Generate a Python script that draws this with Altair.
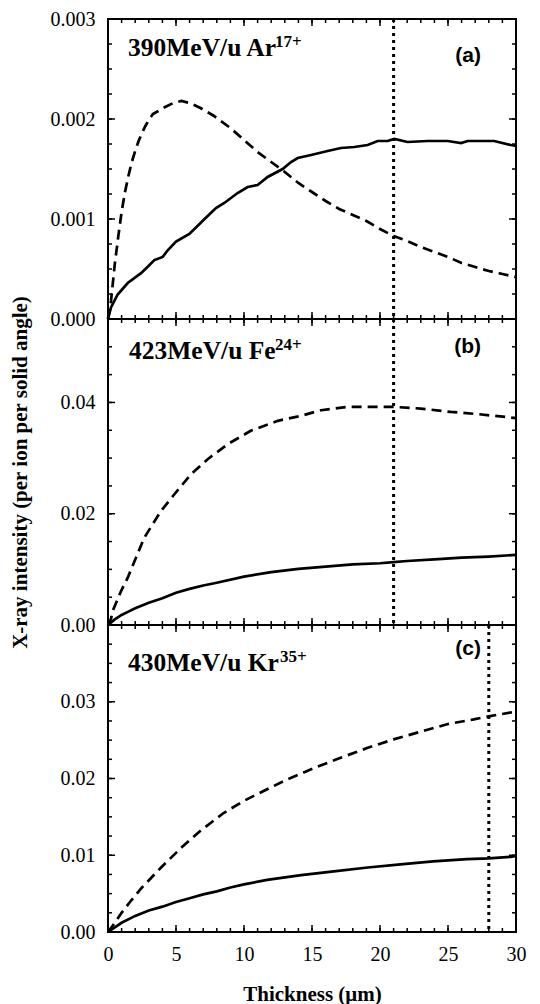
import altair as alt
import pandas as pd

SERIF = "Liberation Serif"
SANS = "Liberation Sans"

# ---------------- data ----------------
x_domain = [0, 30]
x_tick_labels = [0, 5, 10, 15, 20, 25, 30]
x_minor_ticks = list(range(0, 31))

# Panel (a): 390MeV/u Ar17+
a_dash_x = [0, 0.22, 0.5, 0.75, 1.0, 1.25, 1.5, 1.75, 2.0, 2.25, 2.5, 2.75, 3.0, 3.3, 3.7, 4.2,
            4.8, 5.4, 6.0, 6.8, 7.8, 9.0, 10.0, 11.0, 12.0, 13.0, 14.0, 15.0, 16.0, 17.0, 18.0,
            19.0, 20.0, 21.0, 22.0, 23.0, 24.0, 25.0, 26.0, 27.0, 28.0, 29.0, 30.0]
a_dash_y = [0, 0.00018, 0.00055, 0.00082, 0.00107, 0.00127, 0.00143, 0.00157, 0.00168, 0.00178,
            0.00186, 0.00193, 0.00199, 0.00205, 0.00208, 0.00212, 0.00216, 0.00218, 0.00216,
            0.00211, 0.00203, 0.00191, 0.00179, 0.00167, 0.00157, 0.00147, 0.00136, 0.00127,
            0.00118, 0.00110, 0.00104, 0.00098, 0.00090, 0.00083, 0.00078, 0.00072, 0.00067,
            0.00062, 0.00056, 0.00052, 0.00048, 0.00045, 0.00042]
a_solid_x = [0, 0.22, 0.71, 1.45, 2.43, 2.92, 3.41, 4.02, 4.39, 5.0, 5.98, 6.6, 7.08, 7.94, 8.55,
             9.53, 10.27, 11.0, 11.74, 12.84, 13.46, 13.95, 14.93, 16.15, 17.13, 18.11, 19.09,
             19.83, 20.56, 21.05, 22.03, 23.5, 24.98, 25.96, 26.45, 27.43, 28.4, 29.63, 30.0]
a_solid_y = [0, 0.000115, 0.000245, 0.00036, 0.000458, 0.000523, 0.000589, 0.000621, 0.000687,
             0.000775, 0.00085, 0.000932, 0.000997, 0.00111, 0.00116, 0.00126, 0.00132, 0.00134,
             0.00142, 0.0015, 0.00157, 0.00161, 0.00164, 0.00168, 0.00171, 0.00172, 0.00174,
             0.00178, 0.00178, 0.0018, 0.00177, 0.00178, 0.00178, 0.00176, 0.00178, 0.00178,
             0.00178, 0.00174, 0.00173]

# Panel (b): 423MeV/u Fe24+
b_dash_x = [0, 0.22, 0.34, 0.96, 1.45, 2.67, 3.9, 4.88, 6.1, 7.33, 8.8, 10.5, 12.48, 14.19, 15.66,
            17.62, 19.58, 21.05, 23.0, 25.2, 27.2, 29.6, 30.0]
b_dash_y = [0, 0.0011, 0.0025, 0.0061, 0.0085, 0.0157, 0.0205, 0.0235, 0.0271, 0.0298, 0.0325,
            0.0349, 0.0367, 0.0376, 0.0386, 0.0392, 0.0392, 0.0392, 0.0389, 0.0383, 0.0379,
            0.0373, 0.0372]
b_solid_x = [0, 0.5, 1, 1.5, 2, 3, 4, 5, 6, 7, 8, 10, 12, 14, 16, 18, 20, 21, 22, 24, 26, 28, 30]
b_solid_y = [0, 0.0010, 0.0018, 0.0024, 0.0030, 0.0040, 0.0048, 0.0058, 0.0065, 0.0071, 0.0076,
             0.0087, 0.0095, 0.0101, 0.0105, 0.0109, 0.0111, 0.0113, 0.0115, 0.0118, 0.0121,
             0.0123, 0.0126]

# Panel (c): 430MeV/u Kr35+
c_dash_x = [0, 0.5, 1.0, 1.7, 2.5, 3.2, 3.9, 5.4, 6.8, 8.5, 10.0, 11.7, 13.2, 15.2, 17.1, 19.1,
            21.0, 23.0, 25.0, 26.9, 28.0, 29.6, 30.0]
c_dash_y = [0, 0.0012, 0.0025, 0.0041, 0.0058, 0.0071, 0.0084, 0.0110, 0.0132, 0.0155, 0.0171,
            0.0186, 0.0199, 0.0214, 0.0227, 0.0240, 0.0251, 0.0261, 0.0271, 0.0277, 0.0281,
            0.0286, 0.0287]
c_solid_x = [0, 0.5, 1, 2, 3, 4, 5, 6, 7, 8, 9, 10, 11.7, 14.2, 16.6, 19.1, 21.5, 23.9, 26.4, 28.0,
             29.6, 30.0]
c_solid_y = [0, 0.0006, 0.0012, 0.0021, 0.0028, 0.0033, 0.0039, 0.0044, 0.0049, 0.0053, 0.0058,
             0.0062, 0.0068, 0.0074, 0.0079, 0.0084, 0.0088, 0.0092, 0.0095, 0.0096, 0.0098,
             0.0099]

vlines = [21, 21, 28]
y_domains = [[0, 0.003], [0, 0.055], [0, 0.04]]
y_labels = [[0, 0.001, 0.002, 0.003], [0, 0.02, 0.04], [0, 0.01, 0.02, 0.03]]
y_formats = [".3f", ".2f", ".2f"]
y_major = [[0, 0.001, 0.002, 0.003], [0, 0.02, 0.04], [0, 0.01, 0.02, 0.03, 0.04]]
y_minor = [[i * 0.00025 for i in range(13)], [i * 0.005 for i in range(12)],
           [i * 0.0025 for i in range(17)]]
ion_labels = ["390MeV/u Ar", "423MeV/u Fe", "430MeV/u Kr"]
ion_charges = ["17+", "24+", "35+"]
panel_tags = ["(a)", "(b)", "(c)"]
y_title = "X-ray intensity (per ion per solid angle)"
x_title = "Thickness (\u03bcm)"

curves = [
    ((a_solid_x, a_solid_y), (a_dash_x, a_dash_y)),
    ((b_solid_x, b_solid_y), (b_dash_x, b_dash_y)),
    ((c_solid_x, c_solid_y), (c_dash_x, c_dash_y)),
]

# ---------------- layout / style ----------------
W = 408
HEIGHTS = [300, 306, 307]
# text positions (pixels inside each panel)
ion_pos = [(20, 37), (21, 40), (20, 46)]
sup_pos = [(167, 28), (167, 31), (172, 37)]
tag_pos = [(373, 43), (373, 34), (373, 30)]


def panel(i):
    h = HEIGHTS[i]
    show_x = i == 2
    if show_x:
        xax = alt.Axis(values=x_tick_labels, format="d", labelFont=SERIF, labelFontSize=20,
                       labelColor="black", labelPadding=12, labelFlush=False, ticks=False,
                       domain=False, grid=False,
                       title=x_title, titleFont=SERIF, titleFontSize=21, titleFontWeight="bold",
                       titleColor="black", titlePadding=19)
    else:
        xax = None
    yax_kwargs = dict(values=y_labels[i], format=y_formats[i], labelFont=SERIF, labelFontSize=20,
                      labelColor="black", labelPadding=13, labelFlush=False, ticks=False,
                      domain=False, grid=False)
    if i == 1:
        yax = alt.Axis(title=y_title, titleFont=SERIF, titleFontSize=21, titleFontWeight="bold",
                       titleColor="black", titlePadding=30, **yax_kwargs)
    else:
        yax = alt.Axis(title=None, **yax_kwargs)
    xs = alt.Scale(domain=x_domain, nice=False, zero=False)
    ys = alt.Scale(domain=y_domains[i], nice=False, zero=False)

    def X(f):
        return alt.X(f, type="quantitative", scale=xs, axis=xax, title=x_title if show_x else None)

    def Y(f):
        return alt.Y(f, type="quantitative", scale=ys, axis=yax, title=y_title if i == 1 else None)

    (sx, sy), (dx, dy) = curves[i]
    solid = alt.Chart(pd.DataFrame({"x": sx, "y": sy})).mark_line(
        color="black", strokeWidth=2.7).encode(x=X("x"), y=Y("y"))
    dashed = alt.Chart(pd.DataFrame({"x": dx, "y": dy})).mark_line(
        color="black", strokeWidth=2.7, strokeDash=[10, 6]).encode(x=X("x"), y=Y("y"))
    dotted = alt.Chart(pd.DataFrame({"x": [vlines[i]]})).mark_rule(
        color="black", strokeWidth=3, strokeDash=[3, 4]).encode(x=X("x"))

    xmaj = pd.DataFrame({"v": x_tick_labels})
    xmin = pd.DataFrame({"v": x_minor_ticks})
    ymaj = pd.DataFrame({"v": y_major[i]})
    ymin = pd.DataFrame({"v": y_minor[i]})
    tk = dict(color="black", strokeWidth=1.5)
    ticks = [
        alt.Chart(xmaj).mark_rule(**tk).encode(x=X("v"), y=alt.value(h), y2=alt.value(h - 7)),
        alt.Chart(xmin).mark_rule(**tk).encode(x=X("v"), y=alt.value(h), y2=alt.value(h - 4)),
        alt.Chart(xmaj).mark_rule(**tk).encode(x=X("v"), y=alt.value(0), y2=alt.value(7)),
        alt.Chart(xmin).mark_rule(**tk).encode(x=X("v"), y=alt.value(0), y2=alt.value(4)),
        alt.Chart(ymaj).mark_rule(**tk).encode(y=Y("v"), x=alt.value(0), x2=alt.value(7)),
        alt.Chart(ymin).mark_rule(**tk).encode(y=Y("v"), x=alt.value(0), x2=alt.value(4)),
        alt.Chart(ymaj).mark_rule(**tk).encode(y=Y("v"), x=alt.value(W), x2=alt.value(W - 7)),
        alt.Chart(ymin).mark_rule(**tk).encode(y=Y("v"), x=alt.value(W), x2=alt.value(W - 4)),
    ]

    ion = alt.Chart(pd.DataFrame({"t": [ion_labels[i]]})).mark_text(
        align="left", baseline="alphabetic", font=SERIF, fontSize=25.5, fontWeight="bold",
        color="black").encode(text="t:N", x=alt.value(ion_pos[i][0]), y=alt.value(ion_pos[i][1]))
    sup = alt.Chart(pd.DataFrame({"t": [ion_charges[i]]})).mark_text(
        align="left", baseline="alphabetic", font=SERIF, fontSize=17, fontWeight="bold",
        color="black").encode(text="t:N", x=alt.value(sup_pos[i][0]), y=alt.value(sup_pos[i][1]))
    tag = alt.Chart(pd.DataFrame({"t": [panel_tags[i]]})).mark_text(
        align="right", baseline="alphabetic", font=SANS, fontSize=21, fontWeight="bold",
        color="black").encode(text="t:N", x=alt.value(tag_pos[i][0]), y=alt.value(tag_pos[i][1]))

    return alt.layer(solid, dashed, dotted, *ticks, ion, sup, tag).properties(width=W, height=h)


chart = alt.vconcat(panel(0), panel(1), panel(2), spacing=0, bounds="flush").properties(
    padding={"left": 0, "top": 0, "right": 5, "bottom": 0},
    background="white",
).configure_view(stroke="black", strokeWidth=2)

chart.save("out.html", embed_options={"renderer": "svg", "actions": False})
